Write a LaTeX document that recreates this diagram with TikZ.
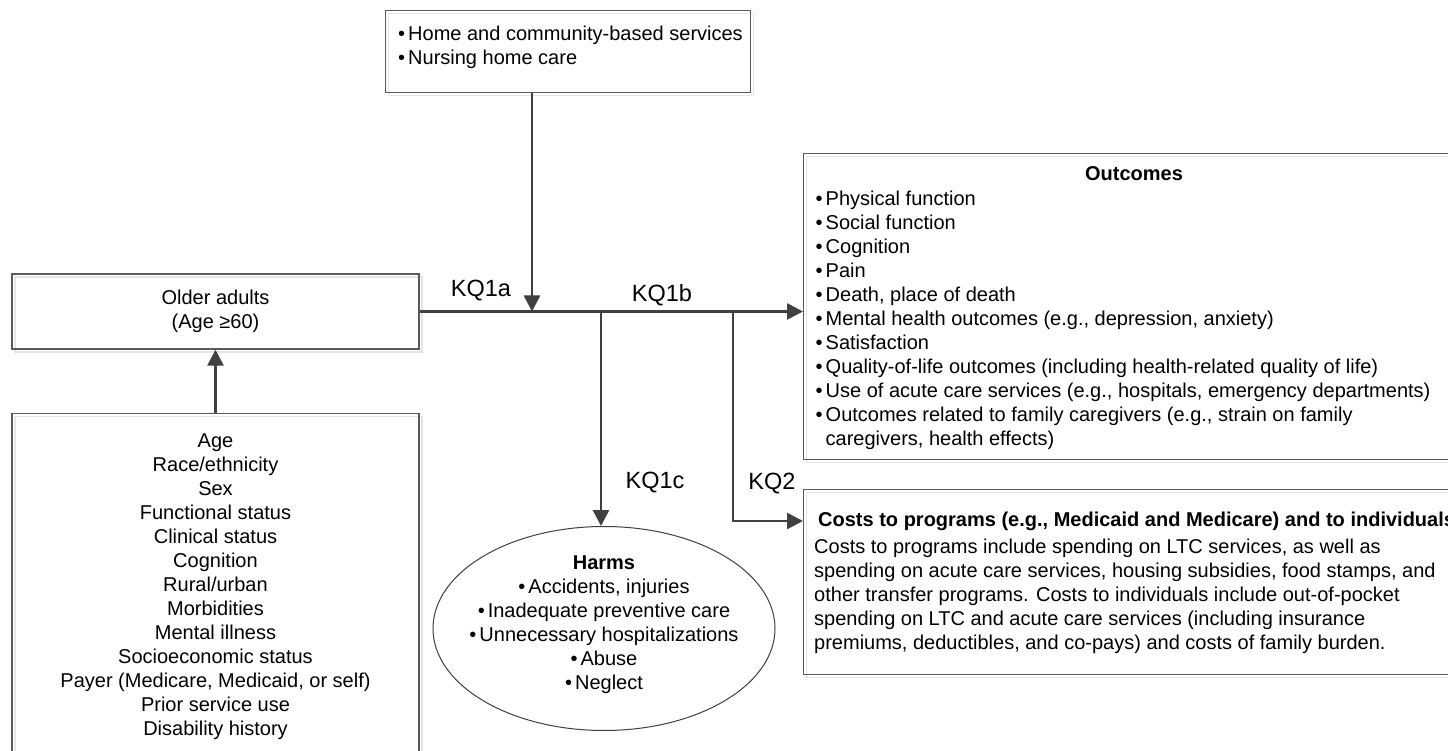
\documentclass[tikz,border=0pt]{standalone}
\usepackage{fontspec}
\setmainfont{Liberation Sans}
\usetikzlibrary{arrows.meta,shapes.geometric}
\definecolor{boxline}{HTML}{5A5A5A}
\definecolor{linkline}{HTML}{404040}
\newcommand{\itm}{\textbullet\kern3pt}

\begin{document}
\begin{tikzpicture}[x=1pt,y=-1pt,
    box/.style={draw=boxline,line width=1.4pt,inner sep=0pt,
      preaction={draw=black!10,line width=1.4pt,transform canvas={shift={(3pt,-3pt)}}}},
    txt/.style={font=\fontsize{20}{24}\selectfont,inner sep=0pt},
    kq/.style={font=\fontsize{23.5}{28}\selectfont,inner sep=0pt},
    link/.style={draw=linkline,line width=2.6pt,-{Triangle[length=16pt,width=16pt]}}]
  \useasboundingbox (0,0) rectangle (1448,751);
  \clip (0,0) rectangle (1448,751);
  \fill[white] (0,0) rectangle (1448,751);
  \node[box,anchor=north west,minimum width=365,minimum height=82] (svc) at (385,10) {};
  \node[txt,align=left,anchor=west] (svctext) at (398,47)
    {\itm Home and community-based services\\\itm Nursing home care};
  \node[box,txt,minimum width=407,minimum height=75,align=center] (older) at (215.5,311.5)
    {Older adults\\(Age ≥60)};
  \node[box,txt,anchor=north,minimum width=407,minimum height=345,align=center] (fact) at (215.5,413)
    {Age\\Race/ethnicity\\Sex\\Functional status\\Clinical status\\Cognition\\Rural/urban\\
     Morbidities\\Mental illness\\Socioeconomic status\\Payer (Medicare, Medicaid, or self)\\
     Prior service use\\Disability history};
  \node[ellipse,draw=linkline,line width=1pt,minimum width=342,minimum height=204] (harm) at (604,628.5) {};
  \node[txt,align=center] (harmtext) at (604,624.5)
    {\textbf{Harms}\\\itm Accidents, injuries\\\itm Inadequate preventive care\\
     \itm Unnecessary hospitalizations\\\itm Abuse\\\itm Neglect};
  \node[box,anchor=north west,minimum width=662,minimum height=306] (outc) at (803,153) {};
  \node[txt] (outctitle) at (1134,174) {\textbf{Outcomes}};
  \node[txt,align=left,anchor=west] (outclist) at (815.5,320)
    {\itm Physical function\\\itm Social function\\\itm Cognition\\\itm Pain\\
     \itm Death, place of death\\\itm Mental health outcomes (e.g., depression, anxiety)\\
     \itm Satisfaction\\\itm Quality-of-life outcomes (including health-related quality of life)\\
     \itm Use of acute care services (e.g., hospitals, emergency departments)\\
     \itm Outcomes related to family caregivers (e.g., strain on family\\
     \phantom{\itm}caregivers, health effects)};
  \node[box,anchor=north west,minimum width=662,minimum height=185] (cost) at (803,489) {};
  \node[txt,anchor=west] (costtitle) at (818,521)
    {\textbf{Costs to programs (e.g., Medicaid and Medicare) and to individuals}};
  \node[txt,align=left,anchor=west] (costtext) at (814,596)
    {Costs to programs include spending on LTC services, as well as\\
     spending on acute care services, housing subsidies, food stamps, and\\
     other transfer programs. Costs to individuals include out-of-pocket\\
     spending on LTC and acute care services (including insurance\\
     premiums, deductibles, and co-pays) and costs of family burden.};
  \node[kq] (kq1a) at (481,291) {KQ1a};
  \node[kq] (kq1b) at (662,295) {KQ1b};
  \node[kq] (kq1c) at (655,483) {KQ1c};
  \node[kq] (kq2) at (772,484) {KQ2};
  \coordinate (j1) at (532,311.5);
  \coordinate (j2) at (601,311.5);
  \coordinate (j3) at (733,311.5);
  \begin{scope}[link]
    \draw (older.east) to (older.east -| outc.west);
    \draw (svc.south -| j1) to (j1);
    \draw (j2) to (j2 |- harm.north);
    \draw (j3) |- (costtitle.west -| cost.west);
    \draw (fact.north) to (older.south);
  \end{scope}
\end{tikzpicture}
\end{document}
